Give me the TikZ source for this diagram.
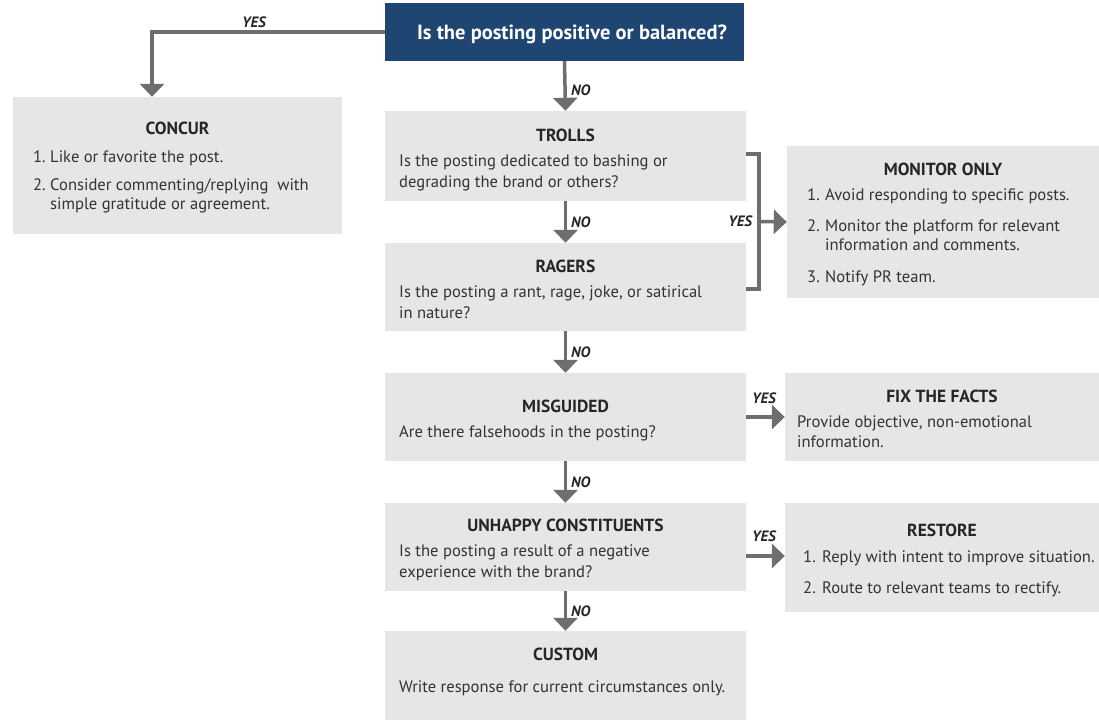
\documentclass[tikz,border=0pt]{standalone}
\usepackage{fontspec}
\setmainfont{PT Sans}
\usetikzlibrary{arrows.meta,calc}
\definecolor{boxgray}{HTML}{E6E6E5}
\definecolor{linegray}{HTML}{6E6E6E}
\definecolor{navy}{HTML}{1F4572}
\definecolor{txt}{HTML}{333333}
\tikzset{
  box/.style={fill=boxgray,draw=none,inner sep=0pt,rectangle},
  ttl/.style={font=\fontsize{17.5}{20}\selectfont\bfseries,text=black!85,anchor=base},
  body/.style={font=\fontsize{16.6}{19}\selectfont,text=txt,anchor=base west,inner sep=0pt},
  lbl/.style={font=\fontsize{15}{17}\selectfont\bfseries\itshape,text=black!85,inner sep=0pt},
  conn/.style={draw=linegray,line width=3.5pt},
  arr/.style={conn,-{Triangle[width=24pt,length=13pt]}},
}
\begin{document}
\begin{tikzpicture}[x=1pt,y=-1pt]
\useasboundingbox (0,0) rectangle (1099,720);
% boxes
\node[fill=navy,inner sep=0pt,minimum width=359,minimum height=58] (top) at (564.5,32) {};
\node[box,minimum width=329,minimum height=137] (concur) at (177.5,165.5) {};
\node[box,minimum width=361,minimum height=90] (trolls) at (565.5,156) {};
\node[box,minimum width=361,minimum height=88] (ragers) at (565.5,287) {};
\node[box,minimum width=312,minimum height=152] (monitor) at (943,222) {};
\node[box,minimum width=361,minimum height=88] (misg) at (565.5,417) {};
\node[box,minimum width=314,minimum height=88] (fix) at (942,417) {};
\node[box,minimum width=361,minimum height=88] (unhappy) at (565.5,547) {};
\node[box,minimum width=314,minimum height=109] (restore) at (942,557.5) {};
\node[box,minimum width=361,minimum height=89] (custom) at (565.5,675.5) {};
% texts
\node[font=\fontsize{20.5}{24}\selectfont\bfseries,text=white,anchor=base] (toptxt) at (572,39) {Is the posting positive or balanced?};

\node[ttl] (concurT) at (177.5,134) {CONCUR};
\node[body] (c1n) at (33,162) {1.};
\node[body] (c1) at (50,162) {Like or favorite the post.};
\node[body] (c2n) at (33,190) {2.};
\node[body] (c2) at (50,190) {Consider commenting/replying\ \ with};
\node[body] (c2b) at (50,209) {simple gratitude or agreement.};

\node[ttl] (trollsT) at (565.5,141) {TROLLS};
\node[body] (t1) at (399,166) {Is the posting dedicated to bashing or};
\node[body] (t2) at (399,187) {degrading the brand or others?};

\node[ttl] (ragersT) at (565.5,272) {RAGERS};
\node[body] (r1) at (399,297) {Is the posting a rant, rage, joke, or satirical};
\node[body] (r2) at (399,318) {in nature?};

\node[ttl] (monT) at (943,175) {MONITOR ONLY};
\node[body] (m1n) at (807,200) {1.};
\node[body] (m1) at (825,200) {Avoid responding to specific posts.};
\node[body] (m2n) at (807,231) {2.};
\node[body] (m2) at (825,231) {Monitor the platform for relevant};
\node[body] (m2b) at (825,250) {information and comments.};
\node[body] (m3n) at (807,282) {3.};
\node[body] (m3) at (825,282) {Notify PR team.};

\node[ttl] (misgT) at (565.5,412) {MISGUIDED};
\node[body] (g1) at (399,437) {Are there falsehoods in the posting?};

\node[ttl] (fixT) at (942,402) {FIX THE FACTS};
\node[body] (f1) at (797,427) {Provide objective, non-emotional};
\node[body] (f2) at (797,447) {information.};

\node[ttl] (unT) at (565.5,531) {UNHAPPY CONSTITUENTS};
\node[body] (u1) at (399,556) {Is the posting a result of a negative};
\node[body] (u2) at (399,577) {experience with the brand?};

\node[ttl] (resT) at (942,536) {RESTORE};
\node[body] (s1n) at (803,562) {1.};
\node[body] (s1) at (822,562) {Reply with intent to improve situation.};
\node[body] (s2n) at (803,593) {2.};
\node[body] (s2) at (822,593) {Route to relevant teams to rectify.};

\node[ttl] (cusT) at (565.5,660) {CUSTOM};
\node[body] (cu1) at (399,692) {Write response for current circumstances only.};

% connectors
\coordinate (concurIn) at ([xshift=-25.5]concur.north);
\draw[arr] (top.west) -| (concurIn);
\node[lbl] at (254,22) {YES};

\draw[arr] (top.south) -- (trolls.north);
\node[lbl,anchor=west] at (571,90) {NO};
\draw[arr] (trolls.south) -- (ragers.north);
\node[lbl,anchor=west] at (571,222) {NO};
\draw[arr] (ragers.south) -- (misg.north);
\node[lbl,anchor=west] at (571,352) {NO};
\draw[arr] (misg.south) -- (unhappy.north);
\node[lbl,anchor=west] at (571,482) {NO};
\draw[arr] (unhappy.south) -- (custom.north);
\node[lbl,anchor=west] at (571,611) {NO};

% bracket
\coordinate (brT) at ([xshift=13,yshift=2]trolls.east);
\coordinate (brB) at ([xshift=13,yshift=-2]ragers.east);
\draw[conn,line cap=butt] ([yshift=2]trolls.east) -- (brT) -- (brB) -- ([yshift=-2]ragers.east);
\coordinate (brM) at ($(brT)!0.5!(brB)$);
\draw[arr] (brM) -- (monitor.west);
\node[lbl,anchor=east] at ([xshift=-7]brM) {YES};

\draw[arr] (misg.east) -- (fix.west);
\node[lbl] at (764,398) {YES};
\coordinate (unOut) at (unhappy.east |- 0,556);
\draw[arr] (unOut) -- (unOut -| restore.west);
\node[lbl] at (764,536) {YES};
\end{tikzpicture}
\end{document}
